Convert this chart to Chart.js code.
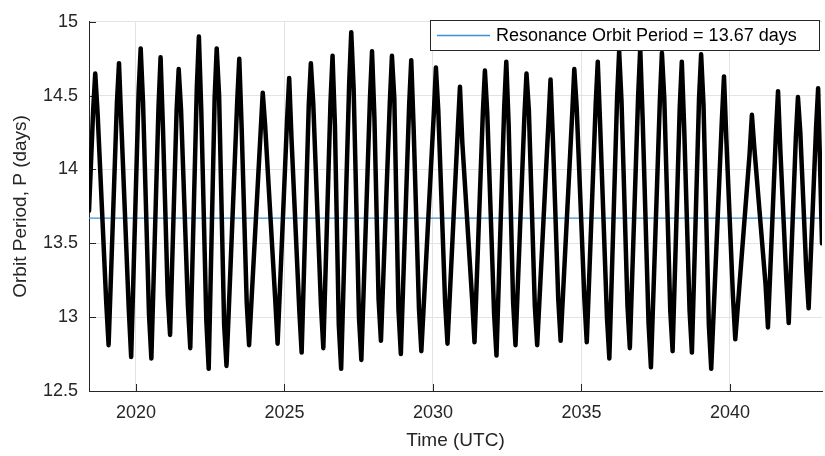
<!DOCTYPE html>
<html>
<head>
<meta charset="utf-8">
<script src="https://cdn.jsdelivr.net/npm/chart.js@4.4.1/dist/chart.umd.min.js"></script>
<style>
  body { margin: 0; background: #fff; }
  canvas { display: block; }
</style>
</head>
<body>
<canvas id="orbit-chart" width="825" height="456"></canvas>
<script>
// orbit period samples (decimal year, days):
// each cycle = shoulder, peak, notch, near-trough, trough
const years = [
  2018.42,
  2018.56, 2018.63, 2018.71, 2019.00, 2019.08,
  2019.36, 2019.43, 2019.51, 2019.76, 2019.84,
  2020.09, 2020.16, 2020.24, 2020.44, 2020.52,
  2020.76, 2020.83, 2020.91, 2021.07, 2021.15,
  2021.37, 2021.44, 2021.52, 2021.75, 2021.83,
  2022.05, 2022.12, 2022.20, 2022.37, 2022.45,
  2022.65, 2022.72, 2022.80, 2022.97, 2023.05,
  2023.41, 2023.48, 2023.56, 2023.73, 2023.81,
  2024.20, 2024.27, 2024.35, 2024.69, 2024.77,
  2025.09, 2025.16, 2025.24, 2025.50, 2025.58,
  2025.82, 2025.89, 2025.97, 2026.23, 2026.31,
  2026.55, 2026.62, 2026.70, 2026.83, 2026.91,
  2027.18, 2027.25, 2027.33, 2027.51, 2027.59,
  2027.88, 2027.95, 2028.03, 2028.17, 2028.25,
  2028.55, 2028.62, 2028.70, 2028.84, 2028.92,
  2029.20, 2029.27, 2029.35, 2029.53, 2029.61,
  2030.03, 2030.10, 2030.18, 2030.41, 2030.49,
  2030.84, 2030.91, 2030.99, 2031.32, 2031.40,
  2031.68, 2031.75, 2031.83, 2032.06, 2032.14,
  2032.40, 2032.47, 2032.55, 2032.70, 2032.78,
  2033.08, 2033.15, 2033.23, 2033.43, 2033.51,
  2033.89, 2033.96, 2034.04, 2034.22, 2034.30,
  2034.69, 2034.76, 2034.84, 2035.10, 2035.18,
  2035.48, 2035.55, 2035.63, 2035.86, 2035.94,
  2036.20, 2036.27, 2036.35, 2036.55, 2036.63,
  2036.91, 2036.98, 2037.06, 2037.26, 2037.34,
  2037.64, 2037.71, 2037.79, 2037.99, 2038.07,
  2038.31, 2038.38, 2038.46, 2038.64, 2038.72,
  2038.96, 2039.03, 2039.11, 2039.29, 2039.37,
  2039.73, 2039.80, 2039.88, 2040.10, 2040.18,
  2040.66, 2040.74, 2040.82, 2041.20, 2041.28,
  2041.55, 2041.62, 2041.70, 2041.90, 2041.98,
  2042.22, 2042.29, 2042.37, 2042.57, 2042.65,
  2042.90, 2042.97, 2043.10
];
const periodDays = [
  13.72,
  14.40, 14.65, 14.38, 13.10, 12.81,
  14.45, 14.72, 14.30, 13.05, 12.73,
  14.52, 14.82, 14.45, 13.02, 12.72,
  14.42, 14.76, 14.28, 13.15, 12.88,
  14.40, 14.68, 14.40, 13.08, 12.79,
  14.55, 14.90, 14.40, 12.98, 12.65,
  14.48, 14.82, 14.50, 12.95, 12.67,
  14.46, 14.75, 14.28, 13.10, 12.81,
  14.26, 14.52, 14.30, 13.12, 12.82,
  14.34, 14.62, 14.20, 13.05, 12.76,
  14.44, 14.72, 14.45, 13.08, 12.79,
  14.45, 14.77, 14.30, 12.95, 12.65,
  14.58, 14.93, 14.55, 13.00, 12.71,
  14.48, 14.80, 14.35, 13.12, 12.84,
  14.46, 14.77, 14.48, 13.05, 12.75,
  14.44, 14.74, 14.28, 13.06, 12.77,
  14.38, 14.69, 14.40, 13.10, 12.82,
  14.28, 14.56, 14.18, 13.12, 12.83,
  14.38, 14.67, 14.38, 13.02, 12.74,
  14.42, 14.73, 14.30, 13.10, 12.81,
  14.36, 14.65, 14.40, 13.08, 12.81,
  14.32, 14.61, 14.20, 13.12, 12.84,
  14.38, 14.68, 14.42, 13.12, 12.83,
  14.44, 14.73, 14.30, 13.00, 12.72,
  14.48, 14.80, 14.46, 13.08, 12.79,
  14.50, 14.82, 14.35, 12.96, 12.66,
  14.46, 14.79, 14.48, 13.05, 12.77,
  14.42, 14.73, 14.28, 13.05, 12.76,
  14.48, 14.78, 14.44, 12.95, 12.65,
  14.34, 14.63, 14.20, 13.15, 12.85,
  14.10, 14.37, 14.15, 13.22, 12.93,
  14.25, 14.53, 14.12, 13.25, 12.96,
  14.22, 14.49, 14.25, 13.32, 13.06,
  14.28, 14.55, 13.50
];
const resonancePeriod = 13.67;
const xTicks = [2020, 2025, 2030, 2035, 2040];
const yTicks = [12.5, 13, 13.5, 14, 14.5, 15];
const xRange = [2018.42, 2043.1];

const pts = years.map((x, i) => ({ x: x, y: periodDays[i] }));
const axisColor = '#262626';
const blue = '#3d8fcf';
const font = 'Liberation Sans, Arial, Helvetica, sans-serif';

// MATLAB style inward tick marks
const innerTicks = {
  id: 'innerTicks',
  beforeDatasetsDraw(chart) {
    const { ctx, chartArea: a, scales: { x, y } } = chart;
    ctx.save();
    ctx.strokeStyle = axisColor;
    ctx.lineWidth = 1;
    ctx.beginPath();
    xTicks.forEach(v => {
      const px = Math.round(x.getPixelForValue(v)) + 0.5;
      ctx.moveTo(px, a.bottom);
      ctx.lineTo(px, a.bottom - 7);
    });
    yTicks.forEach(v => {
      const py = Math.round(y.getPixelForValue(v)) + 0.5;
      ctx.moveTo(a.left, py);
      ctx.lineTo(a.left + 7, py);
    });
    ctx.stroke();
    ctx.restore();
  }
};

// boxed legend, top right inside the axes
const boxLegend = {
  id: 'boxLegend',
  afterDraw(chart) {
    const ctx = chart.ctx;
    ctx.save();
    ctx.fillStyle = '#fff';
    ctx.fillRect(430.5, 20.5, 389, 30);
    ctx.strokeStyle = axisColor;
    ctx.lineWidth = 1;
    ctx.strokeRect(430.5, 20.5, 389, 30);
    ctx.strokeStyle = blue;
    ctx.lineWidth = 1.5;
    ctx.beginPath();
    ctx.moveTo(437, 35.5);
    ctx.lineTo(490, 35.5);
    ctx.stroke();
    ctx.fillStyle = '#000';
    ctx.font = '18px ' + font;
    ctx.textBaseline = 'middle';
    ctx.fillText('Resonance Orbit Period = ' + resonancePeriod.toFixed(2) + ' days', 496, 36);
    ctx.restore();
  }
};

new Chart(document.getElementById('orbit-chart'), {
  type: 'line',
  data: {
    datasets: [
      {
        label: 'P (black)',
        data: pts,
        borderColor: '#000',
        borderWidth: 4.5,
        borderJoinStyle: 'round',
        borderCapStyle: 'round',
        pointRadius: 0,
        tension: 0,
        order: 1
      },
      {
        label: 'P',
        data: pts,
        borderColor: '#D95319',
        borderWidth: 1.5,
        pointRadius: 0,
        tension: 0,
        order: 2
      },
      {
        label: 'Resonance Orbit Period = 13.67 days',
        data: [{ x: xRange[0], y: resonancePeriod }, { x: xRange[1], y: resonancePeriod }],
        borderColor: blue,
        borderWidth: 1.3,
        pointRadius: 0,
        order: 3
      }
    ]
  },
  options: {
    responsive: false,
    animation: false,
    layout: { padding: { left: 0, right: 3, top: 15, bottom: 0 } },
    plugins: {
      legend: { display: false },
      tooltip: { enabled: false }
    },
    scales: {
      x: {
        type: 'linear',
        min: xRange[0],
        max: xRange[1],
        afterBuildTicks: s => { s.ticks = xTicks.map(v => ({ value: v })); },
        afterFit: s => { s.height = 65; },
        grid: { color: '#e3e3e3', drawTicks: false },
        border: { color: axisColor, width: 1 },
        ticks: {
          padding: 11,
          color: axisColor,
          font: { family: font, size: 18 },
          maxRotation: 0,
          callback: v => String(v)
        },
        title: {
          display: true,
          text: 'Time (UTC)',
          color: axisColor,
          font: { family: font, size: 19 },
          padding: { top: 0, bottom: 4 }
        }
      },
      y: {
        min: 12.5,
        max: 15,
        afterBuildTicks: s => { s.ticks = yTicks.map(v => ({ value: v })); },
        afterFit: s => { s.width = 89; },
        grid: { color: '#e3e3e3', drawTicks: false },
        border: { color: axisColor, width: 1 },
        ticks: {
          padding: 11,
          color: axisColor,
          font: { family: font, size: 18 },
          callback: v => String(v)
        },
        title: {
          display: true,
          text: 'Orbit Period, P (days)',
          color: axisColor,
          font: { family: font, size: 19 },
          padding: { top: 9, bottom: 0 }
        }
      }
    }
  },
  plugins: [innerTicks, boxLegend]
});
</script>
</body>
</html>
